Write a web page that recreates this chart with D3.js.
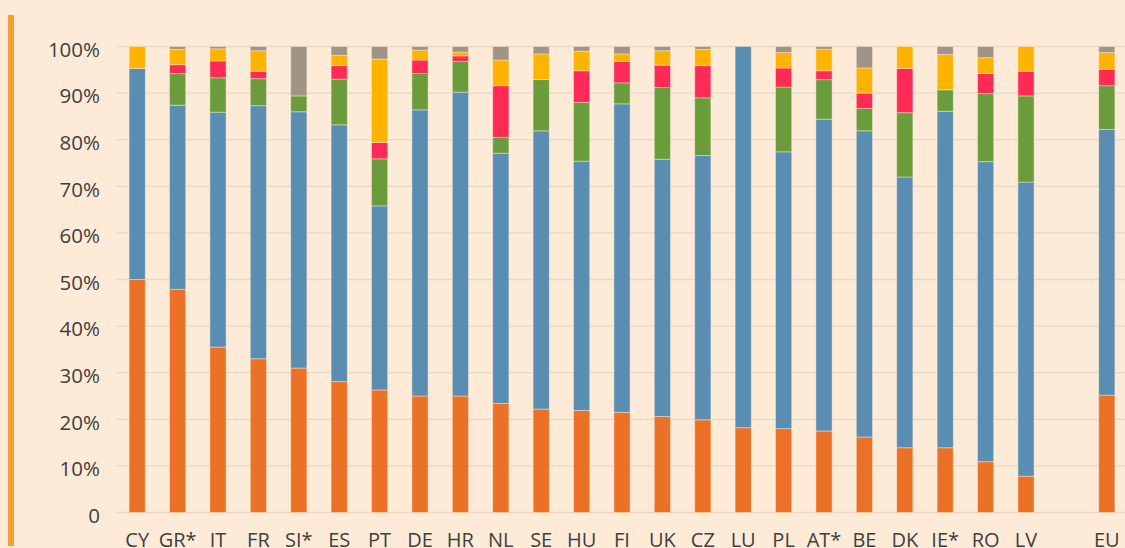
<!DOCTYPE html>
<html>
<head>
<meta charset="utf-8">
<script src="https://cdn.jsdelivr.net/npm/d3@7"></script>
<style>
  html, body { margin: 0; padding: 0; background: #fdebd8; }
  svg { display: block; }
</style>
</head>
<body>
<svg id="chart" width="1125" height="548"></svg>
<script>
// categories (country codes), the gap before EU is added in the x domain
const countries = ['CY', 'GR*', 'IT', 'FR', 'SI*', 'ES', 'PT', 'DE', 'HR', 'NL', 'SE', 'HU', 'FI',
  'UK', 'CZ', 'LU', 'PL', 'AT*', 'BE', 'DK', 'IE*', 'RO', 'LV', 'EU'];

// shares in %, stacked bottom to top
const orangeShare = [50.0, 47.9, 35.5, 33.0, 31.0, 28.1, 26.3, 25.0, 25.0, 23.4, 22.2, 21.9, 21.5,
  20.6, 19.9, 18.2, 18.0, 17.5, 16.2, 13.9, 13.9, 10.9, 7.8, 25.2];
const blueShare = [45.3, 39.5, 50.4, 54.3, 55.0, 55.1, 39.5, 61.4, 65.2, 53.7, 59.7, 53.5, 66.2,
  55.2, 56.7, 81.8, 59.4, 66.9, 65.7, 58.1, 72.2, 64.4, 63.1, 57.0];
const greenShare = [0, 6.8, 7.4, 5.8, 3.4, 9.8, 10.1, 7.8, 6.6, 3.4, 11.0, 12.6, 4.5,
  15.4, 12.4, 0, 13.9, 8.5, 4.8, 13.8, 4.6, 14.6, 18.5, 9.4];
const redShare = [0, 1.9, 3.6, 1.6, 0, 2.9, 3.5, 2.9, 1.2, 11.1, 0, 6.8, 4.6,
  4.8, 6.9, 0, 4.1, 1.9, 3.3, 9.5, 0, 4.3, 5.3, 3.5];
const yellowShare = [4.7, 3.3, 2.6, 4.4, 0, 2.2, 17.9, 2.1, 0.8, 5.5, 5.5, 4.2, 1.6,
  3.1, 3.5, 0, 3.3, 4.6, 5.4, 4.7, 7.6, 3.4, 5.3, 3.6];
const grayShare = [0, 0.6, 0.5, 0.9, 10.6, 1.9, 2.7, 0.8, 1.2, 2.9, 1.6, 1.0, 1.6,
  0.9, 0.6, 0, 1.3, 0.6, 4.6, 0, 1.7, 2.4, 0, 1.3];

const yTicks = [0, 10, 20, 30, 40, 50, 60, 70, 80, 90, 100];
const yTickLabels = ['0', '10%', '20%', '30%', '40%', '50%', '60%', '70%', '80%', '90%', '100%'];

const seriesKeys = ['orange', 'blue', 'green', 'red', 'yellow', 'gray'];
const colors = {
  orange: '#eb7127', blue: '#5a8db2', green: '#6b9c3b',
  red: '#ff2a55', yellow: '#fdb300', gray: '#a09487'
};

const rows = countries.map((c, i) => ({
  country: c,
  orange: orangeShare[i], blue: blueShare[i], green: greenShare[i],
  red: redShare[i], yellow: yellowShare[i], gray: grayShare[i]
}));

const svg = d3.select('#chart');
const plotLeft = 117, plotRight = 1127, plotTop = 46.5, plotBottom = 512.5;

// domain with an empty slot before EU
const domain = countries.slice(0, -1).concat(['_gap', 'EU']);

const x = d3.scaleBand()
  .domain(domain)
  .range([plotLeft, plotRight])
  .paddingInner(0.6)
  .paddingOuter(0.3);

const y = d3.scaleLinear()
  .domain([0, 100])
  .range([plotBottom, plotTop]);

// orange accent bar on the left
svg.append('rect')
  .attr('x', 8).attr('y', 15)
  .attr('width', 6).attr('height', 531)
  .attr('fill', '#f89c33');

// gridlines
svg.append('g')
  .selectAll('line')
  .data(yTicks)
  .join('line')
  .attr('x1', plotLeft).attr('x2', 1125)
  .attr('y1', d => y(d)).attr('y2', d => y(d))
  .attr('stroke', '#ead8c6')
  .attr('stroke-width', 1.3);

// y axis labels
const yAxis = svg.append('g')
  .attr('transform', `translate(${plotLeft}, 0)`)
  .call(d3.axisLeft(y).tickValues(yTicks).tickSize(0).tickPadding(17)
    .tickFormat((d, i) => yTickLabels[i]));
yAxis.select('.domain').remove();
yAxis.selectAll('text')
  .attr('dy', '0.48em')
  .style('font-family', '"Open Sans", sans-serif')
  .style('font-size', '20.5px')
  .style('fill', '#404040');

// stacked bars
const stack = d3.stack().keys(seriesKeys);
const layers = stack(rows);

svg.append('g')
  .selectAll('g')
  .data(layers)
  .join('g')
  .attr('fill', d => colors[d.key])
  .selectAll('rect')
  .data(d => d.filter(p => p[1] - p[0] > 0))
  .join('rect')
  .attr('x', d => x(d.data.country))
  .attr('y', d => y(d[1]))
  .attr('width', x.bandwidth())
  .attr('height', d => y(d[0]) - y(d[1]))
  .attr('stroke', 'rgba(253,235,216,0.45)')
  .attr('stroke-width', 1);

// x axis labels (the reference crops them at the bottom edge)
const xAxis = svg.append('g')
  .attr('transform', `translate(0, ${plotBottom})`)
  .call(d3.axisBottom(x).tickSize(0).tickPadding(0)
    .tickFormat(d => d === '_gap' ? '' : d));
xAxis.select('.domain').remove();
xAxis.selectAll('text')
  .attr('y', 34.5)
  .attr('dy', 0)
  .style('font-family', '"Open Sans", sans-serif')
  .style('font-size', '20px')
  .style('fill', '#404040');
</script>
</body>
</html>
